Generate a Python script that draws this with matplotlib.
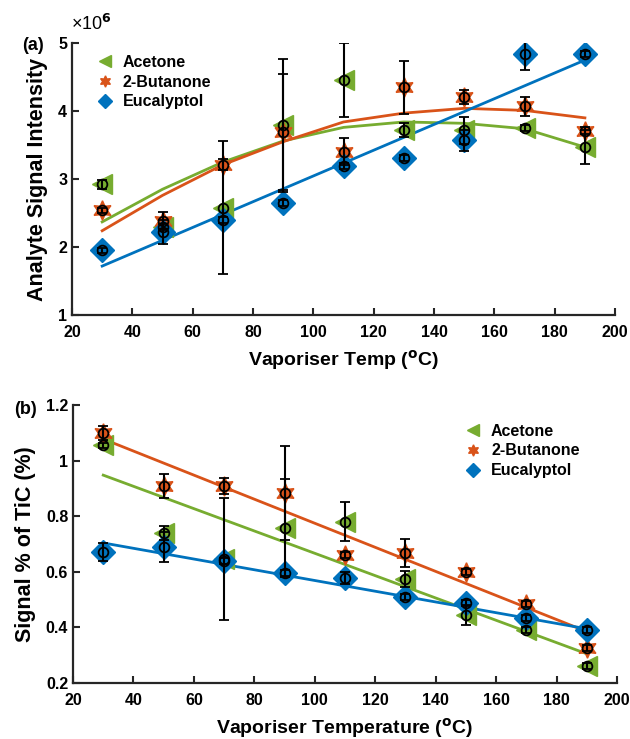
import matplotlib.pyplot as plt

plt.rcParams['font.family'] = ['Liberation Sans', 'DejaVu Sans']
plt.rcParams['font.weight'] = 'bold'
plt.rcParams['axes.labelweight'] = 'bold'
plt.rcParams['mathtext.default'] = 'bf'

temps = [30, 50, 70, 90, 110, 130, 150, 170, 190]
fit_ends = [30, 190]

# panel (a) - signal intensity, in units of 1e6
acetone_a = [2.92, 2.30, 2.58, 3.79, 4.46, 3.72, 3.72, 3.75, 3.47]
acetone_a_err = [0.07, 0.04, 0.98, 0.98, 0.54, 0.10, 0.20, 0.04, 0.25]
butanone_a = [2.54, 2.38, 3.21, 3.69, 3.40, 4.35, 4.21, 4.07, 3.71]
butanone_a_err = [0.04, 0.13, 0.08, 0.85, 0.20, 0.39, 0.10, 0.14, 0.05]
eucalyptol_a = [1.95, 2.22, 2.40, 2.65, 3.19, 3.31, 3.57, 4.84, 4.84]
eucalyptol_a_err = [0.04, 0.18, 0.04, 0.04, 0.04, 0.04, 0.15, 0.24, 0.04]
acetone_a_fit = [2.37, 2.85, 3.25, 3.56, 3.76, 3.84, 3.82, 3.74, 3.47]
butanone_a_fit = [2.24, 2.76, 3.21, 3.55, 3.84, 3.97, 4.04, 4.01, 3.90]
eucalyptol_a_fit = [1.72, 4.75]

# panel (b) - signal % of TiC
acetone_b = [1.055, 0.74, 0.645, 0.758, 0.78, 0.574, 0.445, 0.39, 0.261]
acetone_b_err = [0.01, 0.025, 0.22, 0.175, 0.07, 0.03, 0.035, 0.01, 0.01]
butanone_b = [1.10, 0.909, 0.909, 0.884, 0.66, 0.667, 0.60, 0.484, 0.326]
butanone_b_err = [0.025, 0.042, 0.03, 0.17, 0.01, 0.05, 0.01, 0.01, 0.01]
eucalyptol_b = [0.671, 0.689, 0.64, 0.595, 0.578, 0.509, 0.488, 0.434, 0.39]
eucalyptol_b_err = [0.033, 0.054, 0.01, 0.01, 0.02, 0.01, 0.01, 0.01, 0.01]
acetone_b_fit = [0.948, 0.305]
butanone_b_fit = [1.078, 0.385]
eucalyptol_b_fit = [0.704, 0.395]

names = ['Acetone', '2-Butanone', 'Eucalyptol']
colors = ['#77AC30', '#D95319', '#0072BD']
markers = ['<', (6, 1, 0), 'D']
marker_sizes = [14, 14, 12]


def draw_panel(ax, values, errors, fits_x, fits_y):
    for fx, fy, c in zip(fits_x, fits_y, colors):
        ax.plot(fx, fy, color=c, lw=2, zorder=2)
    handles = []
    for v, c, m, ms, n in zip(values, colors, markers, marker_sizes, names):
        h, = ax.plot(temps, v, ls='none', marker=m, color=c, ms=ms, label=n, zorder=3)
        handles.append(h)
    for v, e in zip(values, errors):
        ax.errorbar(temps, v, yerr=e, fmt='o', mfc='none', mec='k', ms=7, mew=1.3,
                    ecolor='k', elinewidth=1.5, capsize=3.5, capthick=1.5, zorder=4)
    ax.spines['top'].set_visible(False)
    ax.spines['right'].set_visible(False)
    for s in ['left', 'bottom']:
        ax.spines[s].set_linewidth(1.6)
        ax.spines[s].set_color('#262626')
    ax.tick_params(direction='in', length=5, width=1.5, labelsize=11.5, color='#262626')
    ax.tick_params(axis='x', pad=7)
    ax.set_xlim(20, 200)
    ax.set_xticks(range(20, 201, 20))
    return handles


fig = plt.figure(figsize=(6.3, 7.39), dpi=100)

ax1 = fig.add_axes([0.1143, 0.5737, 0.862, 0.368])
h1 = draw_panel(ax1, [acetone_a, butanone_a, eucalyptol_a],
                [acetone_a_err, butanone_a_err, eucalyptol_a_err],
                [temps, temps, fit_ends],
                [acetone_a_fit, butanone_a_fit, eucalyptol_a_fit])
ax1.set_ylim(1, 5)
ax1.set_yticks([1, 2, 3, 4, 5])
ax1.set_xlabel('Vaporiser Temp ($^{o}$C)', fontsize=14, labelpad=6)
ax1.set_ylabel('Analyte Signal Intensity', fontsize=15.5, labelpad=7)
ax1.legend(h1, names, loc='upper left', bbox_to_anchor=(0.02, 1.01), frameon=False,
           fontsize=11.5, markerscale=0.58, handlelength=1.0, handletextpad=0.6,
           labelspacing=0.3)

ax2 = fig.add_axes([0.1159, 0.0758, 0.8635, 0.376])
h2 = draw_panel(ax2, [acetone_b, butanone_b, eucalyptol_b],
                [acetone_b_err, butanone_b_err, eucalyptol_b_err],
                [fit_ends, fit_ends, fit_ends],
                [acetone_b_fit, butanone_b_fit, eucalyptol_b_fit])
ax2.set_ylim(0.2, 1.2)
ax2.set_yticks([0.2, 0.4, 0.6, 0.8, 1.0, 1.2])
ax2.set_yticklabels(['0.2', '0.4', '0.6', '0.8', '1', '1.2'])
ax2.set_xlabel('Vaporiser Temperature ($^{o}$C)', fontsize=14, labelpad=6)
ax2.set_ylabel('Signal % of TiC (%)', fontsize=15.5, labelpad=7)
ax2.legend(h2, names, loc='upper left', bbox_to_anchor=(0.695, 0.985), frameon=False,
           fontsize=11.5, markerscale=0.58, handlelength=1.0, handletextpad=0.6,
           labelspacing=0.3)

fig.text(0.035, 0.938, '(a)', fontsize=13, fontweight='bold', va='center')
fig.text(0.022, 0.446, '(b)', fontsize=13, fontweight='bold', va='center')
fig.text(0.112, 0.968, '×10$^{\\mathrm{6}}$', fontsize=13, fontweight='normal', va='center')

fig.savefig('out.png', dpi=100)
